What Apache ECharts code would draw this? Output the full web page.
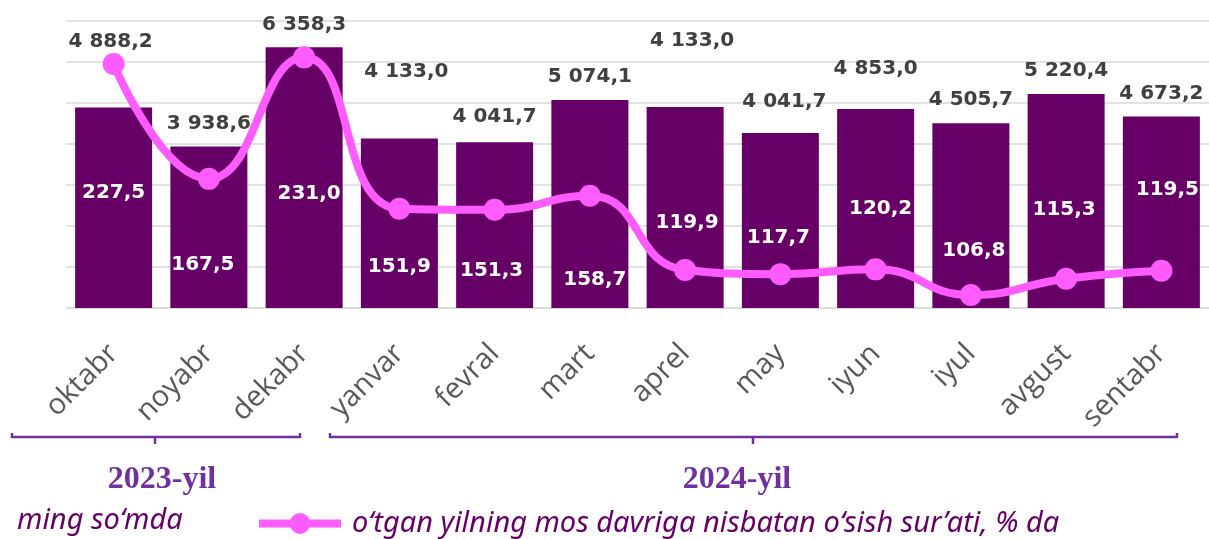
<!DOCTYPE html>
<html>
<head>
<meta charset="utf-8">
<script src="https://cdn.jsdelivr.net/npm/echarts@6/dist/echarts.min.js"></script>
<style>
html,body{margin:0;padding:0;background:#fff}
#chart{width:1209px;height:539px}
</style>
</head>
<body>
<div id="chart"></div>
<script>
// oylar
var months = ['oktabr', 'noyabr', 'dekabr', 'yanvar', 'fevral', 'mart', 'aprel', 'may', 'iyun', 'iyul', 'avgust', 'sentabr'];
// ming so'mda - ustun balandliklari rasmdan o'qilgan
var amounts = [4888.2, 3938.6, 6358.3, 4133.0, 4041.7, 5074.1, 4900, 4270, 4853.0, 4505.7, 5220.4, 4673.2];
// ustunlar ustidagi yozuvlar (rasmdagidek)
var amountLabels = ['4 888,2', '3 938,6', '6 358,3', '4 133,0', '4 041,7', '5 074,1', '4 133,0', '4 041,7', '4 853,0', '4 505,7', '5 220,4', '4 673,2'];
// o'sish sur'ati, %
var growth = [227.5, 167.5, 231.0, 151.9, 151.3, 158.7, 119.9, 117.7, 120.2, 106.8, 115.3, 119.5];
var years = ['2023-yil', '2024-yil'];
var growthName = 'o‘tgan yilning mos davriga nisbatan o‘sish sur’ati, % da';
var unitText = 'ming so‘mda';

// yozuvlarning siljishi (faqat joylashuv uchun)
var barLabelShift = [[-3,-43],[0,0],[0,0],[7,-44],[0,-2],[0,0],[7,-43],[4,-8],[0,-17],[0,0],[0,0],[0,0]];
var growthLabelShift = [[0,129],[-6,86],[5,136],[0,58],[-3,61],[5,84],[2,-47],[-2,-36],[5,-61],[3,-44],[-2,-69],[6,-81]];

var purple = '#660066';
var pink = '#ff5cff';
var bracket = '#7030a0';
var numFont = 'DejaVu Sans';

var myChart = echarts.init(document.getElementById('chart'));

var barData = amounts.map(function (v, i) {
	return {value: v, label: {offset: barLabelShift[i]}};
});
var lineData = growth.map(function (v, i) {
	return {value: v, label: {offset: growthLabelShift[i]}};
});

var options = {
	animation: false,
	grid: {left: 66, right: -3, top: 21, bottom: 231},
	legend: {
		data: [growthName],
		left: 250,
		top: 504,
		itemWidth: 82,
		itemHeight: 26,
		lineStyle: {width: 8, color: pink},
		itemStyle: {color: pink},
		textStyle: {
			fontFamily: 'Noto Sans',
			fontStyle: 'italic',
			fontSize: 29,
			color: purple,
			padding: [0, 0, 0, 6]
		}
	},
	xAxis: {
		type: 'category',
		data: months,
		axisTick: {show: false},
		axisLine: {lineStyle: {color: '#d9d9d9', width: 1.5}},
		axisLabel: {
			interval: 0,
			rotate: 45,
			margin: 41,
			fontFamily: 'Open Sans',
			fontSize: 29,
			color: '#595959'
		}
	},
	yAxis: [{
		type: 'value',
		min: 0,
		max: 7000,
		interval: 1000,
		axisLabel: {show: false},
		axisLine: {show: false},
		axisTick: {show: false},
		splitLine: {lineStyle: {color: '#d9d9d9', width: 1.5}}
	}, {
		type: 'value',
		min: 100,
		max: 250,
		show: false,
		splitLine: {show: false}
	}],
	series: [{
		name: unitText,
		type: 'bar',
		barWidth: 77,
		itemStyle: {color: purple},
		label: {
			show: true,
			position: 'top',
			distance: 13,
			fontFamily: numFont,
			fontWeight: 'bold',
			fontSize: 20,
			color: '#404040',
			formatter: function (p) { return amountLabels[p.dataIndex]; }
		},
		data: barData
	}, {
		name: growthName,
		type: 'line',
		yAxisIndex: 1,
		smooth: 0.5,
		symbol: 'circle',
		symbolSize: 22,
		lineStyle: {color: pink, width: 8},
		itemStyle: {color: pink},
		label: {
			show: true,
			position: 'inside',
			fontFamily: numFont,
			fontWeight: 'bold',
			fontSize: 20,
			color: '#ffffff',
			formatter: function (p) { return p.value.toFixed(1).replace('.', ','); }
		},
		z: 5,
		data: lineData
	}],
	graphic: [
		// qavslar
		{type: 'polyline', shape: {points: [[12,433],[12,437],[300,437],[300,433]]}, style: {stroke: bracket, lineWidth: 2.5, fill: null}},
		{type: 'line', shape: {x1: 155, y1: 437, x2: 155, y2: 444}, style: {stroke: bracket, lineWidth: 2.5}},
		{type: 'polyline', shape: {points: [[330,433],[330,437],[1177,437],[1177,433]]}, style: {stroke: bracket, lineWidth: 2.5, fill: null}},
		{type: 'line', shape: {x1: 753, y1: 437, x2: 753, y2: 444}, style: {stroke: bracket, lineWidth: 2.5}},
		{type: 'text', x: 162, y: 480, style: {text: years[0], fill: bracket, fontFamily: 'Liberation Serif', fontWeight: 'bold', fontSize: 32, align: 'center', verticalAlign: 'middle'}},
		{type: 'text', x: 737, y: 480, style: {text: years[1], fill: bracket, fontFamily: 'Liberation Serif', fontWeight: 'bold', fontSize: 32, align: 'center', verticalAlign: 'middle'}},
		{type: 'text', x: 17, y: 521, style: {text: unitText, fill: purple, fontFamily: 'Noto Sans', fontStyle: 'italic', fontSize: 29, align: 'left', verticalAlign: 'middle'}}
	]
};
myChart.setOption(options);
</script>
</body>
</html>
